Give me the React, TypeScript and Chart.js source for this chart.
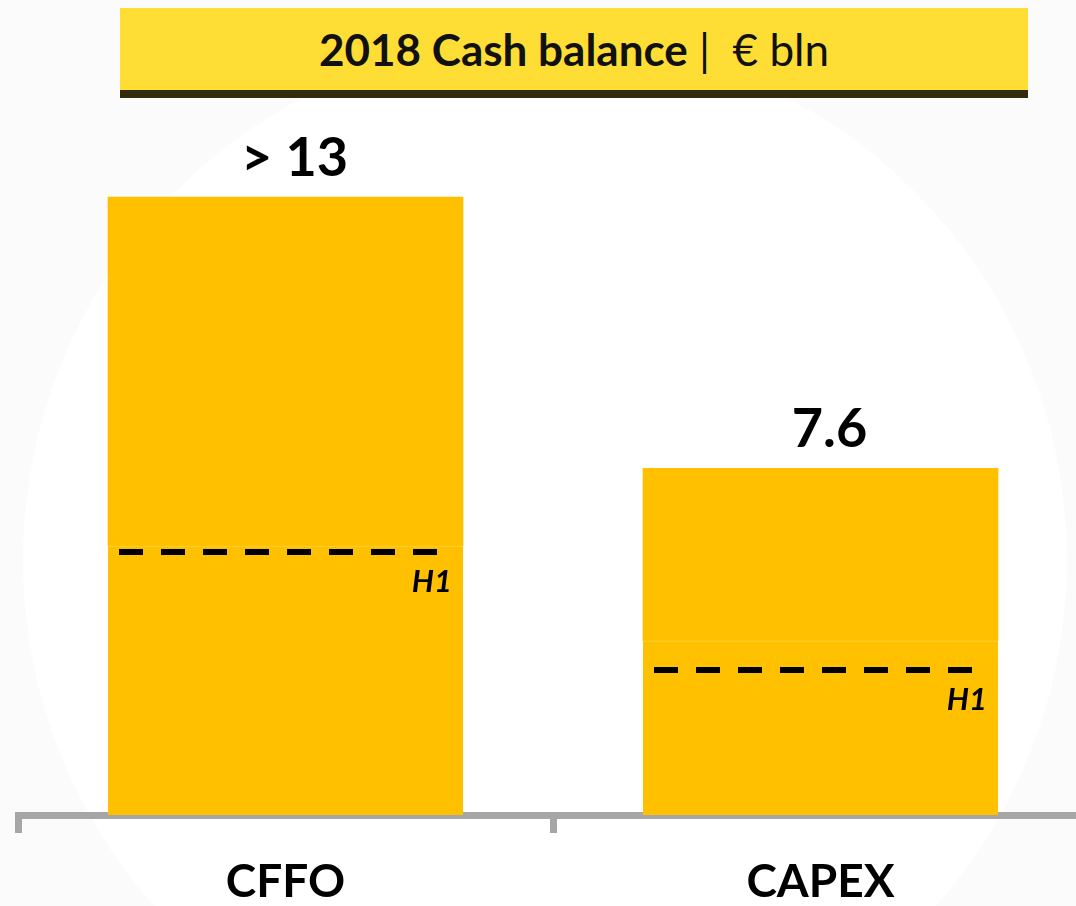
import React, { useEffect, useRef } from "react";
import { Chart, registerables } from "chart.js";

Chart.register(...registerables);

// ---- data ----
const categories = ["CFFO", "CAPEX"];
const h1Values = [5.9, 3.82];
const h2Values = [7.65, 3.78];
const valueLabels = ["> 13", "7.6"];
const h1Markers = [5.77, 3.18];
const markerLabel = "H1";
const titleBold = "2018 Cash balance";
const titleUnit = "€ bln";
const yMax = 15;

const BAR = "#FFC000";
const FONT = "Lato, 'Open Sans', sans-serif";

const bgPlugin = {
  id: "bgCircle",
  beforeDraw(chart: any) {
    const { ctx, width, height } = chart;
    ctx.save();
    ctx.fillStyle = "#fbfbfb";
    ctx.fillRect(0, 0, width, height);
    ctx.fillStyle = "#ffffff";
    ctx.beginPath();
    ctx.arc(545, 560, 522, 0, Math.PI * 2);
    ctx.fill();
    ctx.restore();
  },
};

const labelPlugin = {
  id: "labels",
  afterDatasetsDraw(chart: any) {
    const { ctx } = chart;
    const yScale = chart.scales.y;
    const topMeta = chart.getDatasetMeta(1);
    ctx.save();
    topMeta.data.forEach((bar: any, i: number) => {
      const half = bar.width / 2;
      const left = bar.x - half;
      const right = bar.x + half;
      // value label
      ctx.fillStyle = "#000";
      ctx.font = `bold 54px ${FONT}`;
      ctx.textAlign = "center";
      ctx.textBaseline = "alphabetic";
      ctx.fillText(valueLabels[i], bar.x + 9, bar.y - 21);
      // dashed H1 marker
      const my = yScale.getPixelForValue(h1Markers[i]);
      ctx.strokeStyle = "#000";
      ctx.lineWidth = 6;
      ctx.setLineDash([24, 18]);
      ctx.beginPath();
      ctx.moveTo(left + 11, my);
      ctx.lineTo(right - 18, my);
      ctx.stroke();
      ctx.setLineDash([]);
      ctx.font = `italic bold 31px ${FONT}`;
      ctx.textAlign = "right";
      ctx.fillText(markerLabel, right - 11, my + 40);
    });
    ctx.restore();
  },
};

export default function App() {
  const ref = useRef<HTMLCanvasElement | null>(null);

  useEffect(() => {
    if (!ref.current) return;
    const chart = new Chart(ref.current, {
      type: "bar",
      data: {
        labels: categories,
        datasets: [
          {
            label: "H1",
            data: h1Values,
            backgroundColor: BAR,
            borderColor: "#FFD24A",
            borderWidth: { top: 1, left: 0, right: 0, bottom: 0 },
            borderSkipped: false,
            barThickness: 355,
            stack: "s",
          },
          {
            label: "H2",
            data: h2Values,
            backgroundColor: BAR,
            borderWidth: 0,
            barThickness: 355,
            stack: "s",
          },
        ],
      },
      options: {
        animation: false,
        responsive: false,
        devicePixelRatio: 1,
        layout: { padding: { left: 18, right: 2, top: 131, bottom: 0 } },
        plugins: {
          legend: { display: false },
          tooltip: { enabled: false },
          title: { display: false },
        },
        scales: {
          x: {
            stacked: true,
            z: 1,
            afterFit(scale: any) {
              scale.height = 91;
            },
            border: { display: true, color: "#A6A6A6", width: 7 },
            grid: {
              offset: true,
              drawOnChartArea: false,
              drawTicks: true,
              tickLength: 18,
              color: "#A6A6A6",
              lineWidth: 7,
            },
            ticks: {
              color: "#000",
              padding: 22,
              font: { family: FONT, size: 46, weight: "bold" },
            },
          },
          y: {
            stacked: true,
            display: false,
            min: 0,
            max: yMax,
          },
        },
      },
      plugins: [bgPlugin, labelPlugin],
    } as any);
    return () => chart.destroy();
  }, []);

  return (
    <div
      style={{
        position: "absolute",
        left: 0,
        top: 0,
        width: 1076,
        height: 906,
        overflow: "hidden",
        background: "#fff",
      }}
    >
      <canvas
        ref={ref}
        width={1090}
        height={906}
        style={{ position: "absolute", left: 0, top: 0, width: 1090, height: 906 }}
      />
      <div
        style={{
          position: "absolute",
          left: 120,
          top: 8,
          width: 908,
          height: 82,
          background: "#FEDE35",
          borderBottom: "8px solid #342B0A",
          display: "flex",
          alignItems: "center",
          justifyContent: "center",
          fontFamily: FONT,
          fontSize: 44,
          color: "#111",
          whiteSpace: "pre",
        }}
      >
        <span style={{ fontWeight: 700 }}>{titleBold}</span>
        <span style={{ fontWeight: 400 }}>{" |  " + titleUnit}</span>
      </div>
    </div>
  );
}
